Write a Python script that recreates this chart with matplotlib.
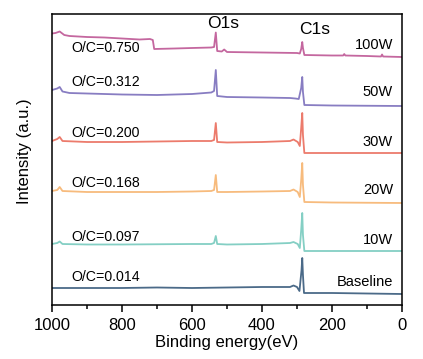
import numpy as np
import matplotlib
matplotlib.use('Agg')
import matplotlib.pyplot as plt
from matplotlib.ticker import MultipleLocator

plt.rcParams['font.family'] = ['Liberation Sans', 'DejaVu Sans']

# XPS survey spectra, intensity (arbitrary units, already offset)
e_base = [1000, 900, 800, 700, 600, 500, 400, 320, 310, 300, 293, 287, 285, 283, 280, 200, 100, 0]
i_base = [17, 17, 17, 17.5, 17, 17.5, 18, 18, 19.5, 18, 14, 35, 47, 30, 12, 12, 11.5, 11]

e_10w = [1000, 985, 978, 970, 900, 800, 600, 545, 537, 532, 528, 500, 400, 320, 310, 298, 292, 288, 285, 283, 279, 200, 0]
i_10w = [61, 62, 63.5, 61, 60.5, 60.5, 61, 61, 62, 69, 61, 60.5, 61, 62, 63, 61, 57, 75, 92, 70, 54, 54, 54]

e_20w = [1000, 985, 978, 970, 900, 800, 700, 600, 545, 537, 532, 528, 500, 400, 320, 310, 298, 292, 288, 285, 283, 279, 200, 0]
i_20w = [114, 115, 118, 114, 113, 113, 113, 113.5, 114, 115, 130, 113, 113, 113.5, 114, 115.5, 113, 108, 125, 142, 120, 103, 102.5, 102]

e_30w = [1000, 985, 978, 970, 900, 800, 700, 600, 545, 537, 532, 528, 500, 400, 320, 310, 298, 292, 288, 285, 283, 279, 200, 0]
i_30w = [164, 166, 168, 164, 163, 163, 163.5, 164, 164, 165, 182, 163, 162.5, 163, 164, 165.5, 163, 159, 177, 192, 170, 152, 152, 152]

e_50w = [1000, 985, 978, 970, 950, 900, 800, 700, 600, 545, 537, 532, 528, 500, 400, 320, 305, 295, 288, 285, 283, 279, 200, 0]
i_50w = [215, 216.5, 218, 213.5, 212, 211.5, 210.5, 210, 211, 212.5, 214, 235, 209, 208, 207.5, 207, 206.5, 206, 217, 228, 213, 200, 199.5, 199]

e_100w = [1000, 990, 978, 965, 950, 900, 850, 800, 750, 720, 712, 708, 650, 600, 545, 537, 532, 528, 515, 508, 500, 400, 300,
          292, 288, 285, 283, 279, 200, 168, 165, 162, 100, 60, 57, 54, 0]
i_100w = [271.5, 272, 273.5, 270, 269, 268, 267.5, 266.5, 265.5, 266, 265, 256, 256.5, 257, 257.5, 258, 272.5, 254, 253.5, 255.5,
          253, 252.5, 252, 251.5, 256, 263, 257, 250, 249.5, 249.5, 251, 249.5, 249, 248.5, 250.5, 248.5, 248]

series = [
    (e_base, i_base, '#4b6a88', 'O/C=0.014', 28, 'Baseline', 23),
    (e_10w, i_10w, '#84cfc4', 'O/C=0.097', 68, '10W', 65),
    (e_20w, i_20w, '#f7bb7d', 'O/C=0.168', 122, '20W', 115),
    (e_30w, i_30w, '#ec7b6c', 'O/C=0.200', 172, '30W', 163),
    (e_50w, i_50w, '#887dc2', 'O/C=0.312', 223, '50W', 213),
    (e_100w, i_100w, '#c4679f', 'O/C=0.750', 257, '100W', 260),
]

fig = plt.figure(figsize=(4.23, 3.59), dpi=100)
ax = fig.add_axes([52 / 423, 54 / 359, 350 / 423, 291 / 359])

for e, inten, color, ratio, ry, name, ny in series:
    ax.plot(e, inten, color=color, lw=1.3)
    ax.text(946, ry, ratio, fontsize=10.2, ha='left', va='center')
    ax.text(26, ny, name, fontsize=10.5, ha='right', va='center')

ax.text(511, 282, 'O1s', fontsize=12.5, ha='center', va='center')
ax.text(249, 275, 'C1s', fontsize=12.5, ha='center', va='center')

ax.set_xlim(1000, 0)
ax.set_ylim(0, 291)
ax.xaxis.set_major_locator(MultipleLocator(200))
ax.xaxis.set_minor_locator(MultipleLocator(100))
ax.tick_params(axis='x', which='major', direction='out', length=5, width=1.1, labelsize=12, pad=4)
ax.tick_params(axis='x', which='minor', direction='out', length=3, width=1.1)
ax.set_yticks([])
for s in ax.spines.values():
    s.set_linewidth(1.1)

ax.set_xlabel('Binding energy(eV)', fontsize=12, labelpad=2)
ax.set_ylabel('Intensity (a.u.)', fontsize=12)
ax.yaxis.set_label_coords(-0.057, 0.527)

fig.savefig('out.png', dpi=100)
